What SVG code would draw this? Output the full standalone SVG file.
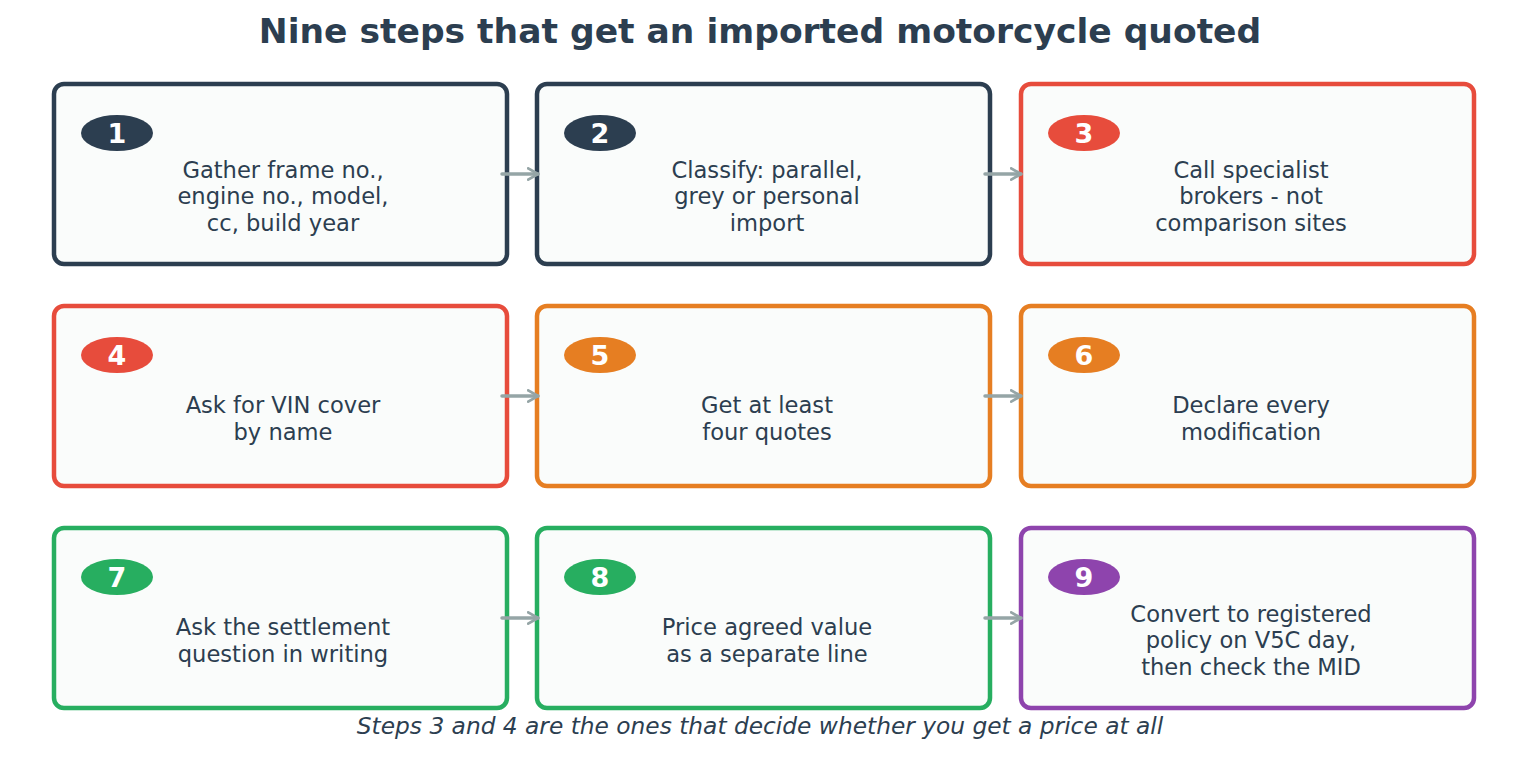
<svg xmlns="http://www.w3.org/2000/svg" width="1520" height="776" viewBox="0 0 1520 776">
<defs>
<marker id="ah" viewBox="0 0 10 10" refX="8" refY="5" markerWidth="4" markerHeight="4" orient="auto" markerUnits="strokeWidth"><path d="M1,1 L8,5 L1,9" fill="none" stroke="#95a5a6" stroke-width="2" stroke-linecap="round" stroke-linejoin="round"/></marker>
</defs>
<style>
text{font-family:"DejaVu Sans",Verdana,sans-serif;fill:#2c3e50}
.box{fill:#fafcfb;stroke-width:4.5}
.t{font-size:22.6px;text-anchor:middle}
.n{font-size:27px;font-weight:bold;fill:#fff;text-anchor:middle}
.c{stroke:#95a5a6;stroke-width:3.5;fill:none;stroke-linecap:round}
</style>
<rect width="1520" height="776" fill="#fff"/>
<text x="760" y="43" font-size="34.5" font-weight="bold" text-anchor="middle">Nine steps that get an imported motorcycle quoted</text>
<g id="n1"><rect class="box" x="54" y="84" width="453" height="180" rx="10" stroke="#2c3e50"/><ellipse cx="117" cy="133" rx="36" ry="18" fill="#2c3e50"/><text class="n" x="117" y="143">1</text><text class="t" x="283" y="178">Gather frame no.,</text><text class="t" x="283" y="204">engine no., model,</text><text class="t" x="283" y="231">cc, build year</text></g>
<g id="n2"><rect class="box" x="537" y="84" width="453" height="180" rx="10" stroke="#2c3e50"/><ellipse cx="600" cy="133" rx="36" ry="18" fill="#2c3e50"/><text class="n" x="600" y="143">2</text><text class="t" x="767" y="178">Classify: parallel,</text><text class="t" x="767" y="204">grey or personal</text><text class="t" x="767" y="231">import</text></g>
<g id="n3"><rect class="box" x="1021" y="84" width="453" height="180" rx="10" stroke="#e74c3c"/><ellipse cx="1084" cy="133" rx="36" ry="18" fill="#e74c3c"/><text class="n" x="1084" y="143">3</text><text class="t" x="1251" y="178">Call specialist</text><text class="t" x="1251" y="204">brokers - not</text><text class="t" x="1251" y="231">comparison sites</text></g>
<g id="n4"><rect class="box" x="54" y="306" width="453" height="180" rx="10" stroke="#e74c3c"/><ellipse cx="117" cy="355" rx="36" ry="18" fill="#e74c3c"/><text class="n" x="117" y="365">4</text><text class="t" x="283" y="413">Ask for VIN cover</text><text class="t" x="283" y="440">by name</text></g>
<g id="n5"><rect class="box" x="537" y="306" width="453" height="180" rx="10" stroke="#e67e22"/><ellipse cx="600" cy="355" rx="36" ry="18" fill="#e67e22"/><text class="n" x="600" y="365">5</text><text class="t" x="767" y="413">Get at least</text><text class="t" x="767" y="440">four quotes</text></g>
<g id="n6"><rect class="box" x="1021" y="306" width="453" height="180" rx="10" stroke="#e67e22"/><ellipse cx="1084" cy="355" rx="36" ry="18" fill="#e67e22"/><text class="n" x="1084" y="365">6</text><text class="t" x="1251" y="413">Declare every</text><text class="t" x="1251" y="440">modification</text></g>
<g id="n7"><rect class="box" x="54" y="528" width="453" height="180" rx="10" stroke="#27ae60"/><ellipse cx="117" cy="577" rx="36" ry="18" fill="#27ae60"/><text class="n" x="117" y="587">7</text><text class="t" x="283" y="635">Ask the settlement</text><text class="t" x="283" y="662">question in writing</text></g>
<g id="n8"><rect class="box" x="537" y="528" width="453" height="180" rx="10" stroke="#27ae60"/><ellipse cx="600" cy="577" rx="36" ry="18" fill="#27ae60"/><text class="n" x="600" y="587">8</text><text class="t" x="767" y="635">Price agreed value</text><text class="t" x="767" y="662">as a separate line</text></g>
<g id="n9"><rect class="box" x="1021" y="528" width="453" height="180" rx="10" stroke="#8e44ad"/><ellipse cx="1084" cy="577" rx="36" ry="18" fill="#8e44ad"/><text class="n" x="1084" y="587">9</text><text class="t" x="1251" y="622">Convert to registered</text><text class="t" x="1251" y="648">policy on V5C day,</text><text class="t" x="1251" y="675">then check the MID</text></g>
<g id="connectors">
<line class="c" x1="502" y1="174" x2="538" y2="174" marker-end="url(#ah)"/>
<line class="c" x1="985" y1="174" x2="1021" y2="174" marker-end="url(#ah)"/>
<line class="c" x1="502" y1="396" x2="538" y2="396" marker-end="url(#ah)"/>
<line class="c" x1="985" y1="396" x2="1021" y2="396" marker-end="url(#ah)"/>
<line class="c" x1="502" y1="618" x2="538" y2="618" marker-end="url(#ah)"/>
<line class="c" x1="985" y1="618" x2="1021" y2="618" marker-end="url(#ah)"/>
</g>
<text x="760" y="734" font-size="23.3" font-style="italic" text-anchor="middle">Steps 3 and 4 are the ones that decide whether you get a price at all</text>
</svg>
